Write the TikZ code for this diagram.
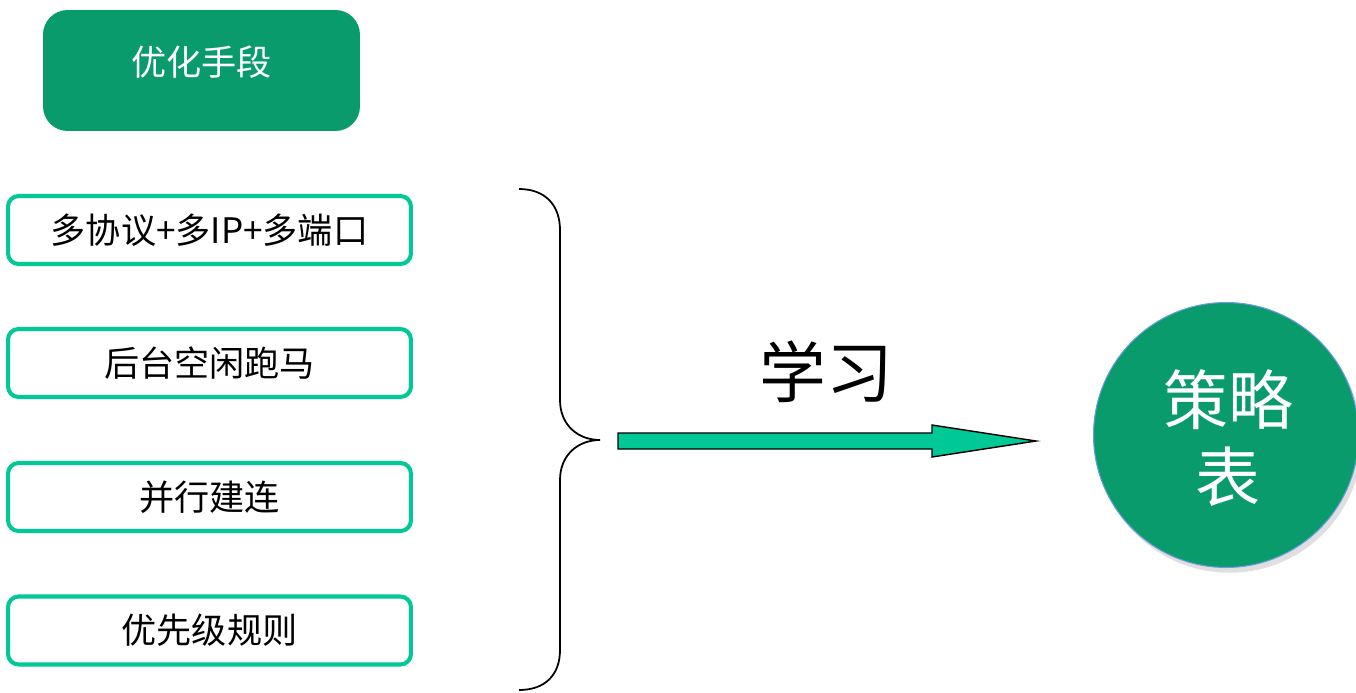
\documentclass[tikz,border=0pt]{standalone}
\usepackage{fontspec}
\setmainfont{Noto Sans CJK SC}
\usepackage{xcolor}
\usetikzlibrary{shadows}
\definecolor{darkgreen}{HTML}{0A9B6C}
\definecolor{lightgreen}{HTML}{00C896}
\definecolor{rimblue}{HTML}{6A9AE0}

\begin{document}
\begin{tikzpicture}[x=0.02cm,y=-0.02cm,
  methodbox/.style={draw=lightgreen,line width=2.3pt,rounded corners=6pt,fill=white,
    minimum width=8.06cm,minimum height=1.36cm,font=\fontsize{20}{24}\selectfont}]
\useasboundingbox (0,0) rectangle (1356,693);
\node[fill=darkgreen,rounded corners=14pt,minimum width=6.34cm,minimum height=2.42cm] (head) at (201.5,70.5) {};
\node[text=white,font=\fontsize{20}{24}\selectfont] (headtext) at (201.5,62) {优化手段};
\node[methodbox] (m1) at (209.5,230) {多协议+多IP+多端口};
\node[methodbox] (m2) at (209.5,363) {后台空闲跑马};
\node[methodbox] (m3) at (209.5,497) {并行建连};
\node[methodbox] (m4) at (209.5,630.5) {优先级规则};
% brace
\coordinate (tip) at (600,440);
\draw[line width=1pt] (519,189) .. controls (545,189) and (560,205) .. (560,230) -- (560,400)
  .. controls (560,425) and (578,440) .. (tip)
  .. controls (578,440) and (560,455) .. (560,480) -- (560,650)
  .. controls (560,675) and (545,690) .. (519,690);
% arrow
\draw[fill=lightgreen,line width=0.8pt] (618,433) -- (932,433) -- (932,425) -- (1036,441) -- (932,457) -- (932,449) -- (618,449) -- cycle;
\node[font=\fontsize{38}{44}\selectfont] (learn) at (826,372) {学习};
\node[circle,fill=darkgreen,draw=rimblue,line width=0.6pt,minimum size=5.3cm,
  drop shadow={opacity=0.25,shadow xshift=2pt,shadow yshift=-3pt}] (table) at (1226,435) {};
\node[text=white,align=center,font=\fontsize{37}{44}\selectfont] (tabletext) at (1228,438) {策略\\表};
\end{tikzpicture}
\end{document}
